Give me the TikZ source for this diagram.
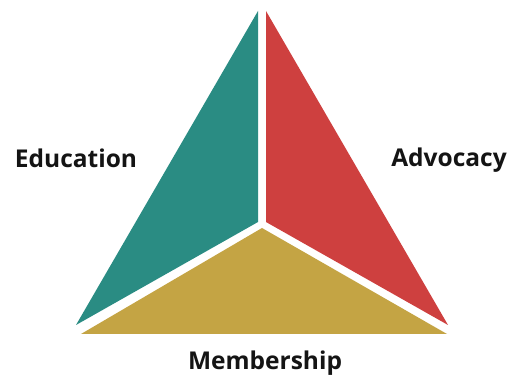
\documentclass[tikz,border=0pt]{standalone}
\usepackage{fontspec}
\setmainfont{Open Sans}
\definecolor{teal1}{RGB}{42,140,131}
\definecolor{red1}{RGB}{206,64,63}
\definecolor{gold1}{RGB}{196,164,68}
\begin{document}
\begin{tikzpicture}[x=1pt,y=-1pt,
  lab/.style={font=\fontsize{24.5}{27}\selectfont\bfseries, text=black!92, inner sep=0pt}]
\useasboundingbox (0,0) rectangle (512,379);
\fill[white] (0,0) rectangle (512,379);
\coordinate (tA) at (258,11);
\coordinate (tB) at (258,222);
\coordinate (tC) at (76,325);
\coordinate (rA) at (266,11);
\coordinate (rB) at (266,222);
\coordinate (rC) at (448,325);
\coordinate (gA) at (262,228);
\coordinate (gB) at (447,334);
\coordinate (gC) at (81,334);
\fill[teal1] (tA) -- (tB) -- (tC) -- cycle;
\fill[red1] (rA) -- (rB) -- (rC) -- cycle;
\fill[gold1] (gA) -- (gB) -- (gC) -- cycle;
\node[lab] (edu) at (76,158) {Education};
\node[lab] (adv) at (449,160) {Advocacy};
\node[lab] (mem) at (265,363) {Membership};
\end{tikzpicture}
\end{document}
